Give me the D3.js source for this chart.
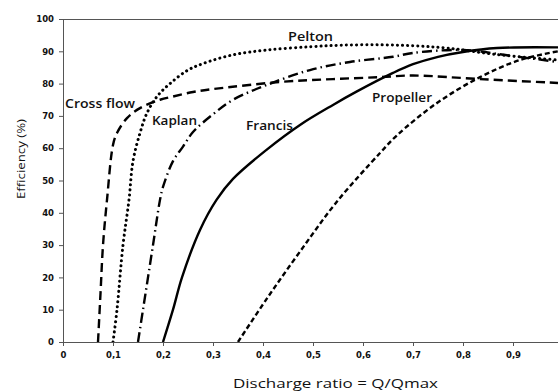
<!DOCTYPE html>
<html><head><meta charset="utf-8">
<script src="https://cdn.jsdelivr.net/npm/d3@7"></script>
<style>body{margin:0;background:#fff;} svg{display:block;}</style>
</head><body>
<svg id="c" width="558" height="392"></svg>
<script>
const xTicks = [0,0.1,0.2,0.3,0.4,0.5,0.6,0.7,0.8,0.9];
const yTicks = [0,10,20,30,40,50,60,70,80,90,100];

const crossflowX = [0.07,0.075,0.08,0.088,0.1,0.108,0.128,0.154,0.194,0.22,0.26,0.3,0.434,0.54,0.634,0.7,0.834,0.99];
const crossflowY = [0,15,30,44,61,64.7,69.3,72.4,75,76,77.4,78.3,80.5,81.4,82,82.5,81.4,80.2];

const peltonX = [0.1,0.108,0.12,0.132,0.14,0.154,0.168,0.188,0.214,0.248,0.28,0.34,0.408,0.494,0.56,0.634,0.7,0.768,0.868,0.99];
const peltonY = [0,10,30,44,56,64.7,70.9,76,80,84,86.2,88.9,90.4,91.4,91.9,92,91.7,91,89,87.3];

const kaplanX = [0.15,0.16,0.18,0.194,0.2,0.22,0.24,0.26,0.3,0.34,0.408,0.494,0.574,0.66,0.7,0.8,0.9,0.99];
const kaplanY = [0,10,30,44,48,56,60.5,65,70.5,75,79.6,84.2,86.7,88.3,89.5,90.4,88.5,86.7];

const francisX = [0.2,0.22,0.238,0.274,0.307,0.34,0.407,0.474,0.54,0.587,0.66,0.7,0.75,0.8,0.868,0.99];
const francisY = [0,10,20,34.7,44,50.5,59.5,67.2,73.4,77.5,83.3,86,88.3,89.8,91,91.2];

const propellerX = [0.35,0.408,0.474,0.548,0.634,0.668,0.748,0.834,0.914,0.99];
const propellerY = [0,13.5,28,43.5,58.5,64,74,82,87.3,90];

const series = [
  {name:"Cross flow", xs:crossflowX, ys:crossflowY, dash:"9,5", cap:"butt", w:2.4},
  {name:"Pelton", xs:peltonX, ys:peltonY, dash:"0.1,5", cap:"round", w:3},
  {name:"Kaplan", xs:kaplanX, ys:kaplanY, dash:"10,4,1.5,4", cap:"butt", w:2.4},
  {name:"Francis", xs:francisX, ys:francisY, dash:null, cap:"butt", w:2.4},
  {name:"Propeller", xs:propellerX, ys:propellerY, dash:"5,3", cap:"butt", w:2.4}
];

const svg = d3.select("#c");
const x = d3.scaleLinear().domain([0,1]).range([63,563]);
const y = d3.scaleLinear().domain([0,100]).range([342,19]);

svg.append("defs").append("clipPath").attr("id","clip")
  .append("rect").attr("x",63).attr("y",19).attr("width",500).attr("height",323);

svg.append("line").attr("x1",63).attr("x2",558).attr("y1",19.5).attr("y2",19.5)
  .attr("stroke","#555").attr("stroke-width",1);

const xa = svg.append("g").attr("transform","translate(0,342)")
  .call(d3.axisBottom(x).tickValues(xTicks).tickSize(4).tickSizeOuter(0)
    .tickFormat(d => d===0 ? "0" : d3.format(".1f")(d).replace(".",",")));
xa.select(".domain").attr("stroke","#555").attr("d","M63,0.5H558");
xa.selectAll(".tick line").attr("stroke","#555");
xa.selectAll("text").attr("font-family","DejaVu Sans").attr("font-weight","bold")
  .attr("font-size",8.5).attr("fill","#111").attr("y",10).attr("dy","0.71em");

const ya = svg.append("g").attr("transform","translate(63,0)")
  .call(d3.axisLeft(y).tickValues(yTicks).tickSize(4).tickSizeOuter(0));
ya.select(".domain").attr("stroke","#555");
ya.selectAll(".tick line").attr("stroke","#555");
ya.selectAll("text").attr("font-family","DejaVu Sans").attr("font-weight","bold")
  .attr("font-size",8.5).attr("fill","#111").attr("x",-9);

const line = d3.line().x(d=>x(d[0])).y(d=>y(d[1])).curve(d3.curveCatmullRom.alpha(0.5));
const g = svg.append("g").attr("clip-path","url(#clip)");
series.forEach(s => {
  const pts = s.xs.map((v,i)=>[v,s.ys[i]]);
  g.append("path").attr("d",line(pts)).attr("fill","none").attr("stroke","#000")
    .attr("stroke-width",s.w).attr("stroke-dasharray",s.dash).attr("stroke-linecap",s.cap);
});

const labels = [
  {t:"Pelton", xv:0.45, yv:93.2, w:45},
  {t:"Cross flow", xv:0.004, yv:72.4, w:70},
  {t:"Kaplan", xv:0.178, yv:67.2, w:45},
  {t:"Francis", xv:0.366, yv:65.6, w:47},
  {t:"Propeller", xv:0.618, yv:74.3, w:60}
];
svg.selectAll(".lbl").data(labels).enter().append("text")
  .attr("x",d=>x(d.xv)).attr("y",d=>y(d.yv))
  .attr("font-family","Open Sans").attr("font-weight",600).attr("font-size",12.5)
  .attr("textLength",d=>d.w).attr("lengthAdjust","spacingAndGlyphs")
  .attr("fill","#111").text(d=>d.t);

svg.append("text").attr("transform","translate(25,159) rotate(-90)")
  .attr("text-anchor","middle").attr("font-family","Open Sans").attr("font-size",11.5)
  .attr("textLength",80).attr("lengthAdjust","spacingAndGlyphs")
  .attr("fill","#111").text("Efficiency  (%)");
svg.append("text").attr("x",233).attr("y",388)
  .attr("font-family","Open Sans").attr("font-size",13.5).attr("fill","#111")
  .attr("textLength",205).attr("lengthAdjust","spacingAndGlyphs")
  .text("Discharge  ratio = Q/Qmax");
</script>
</body></html>
